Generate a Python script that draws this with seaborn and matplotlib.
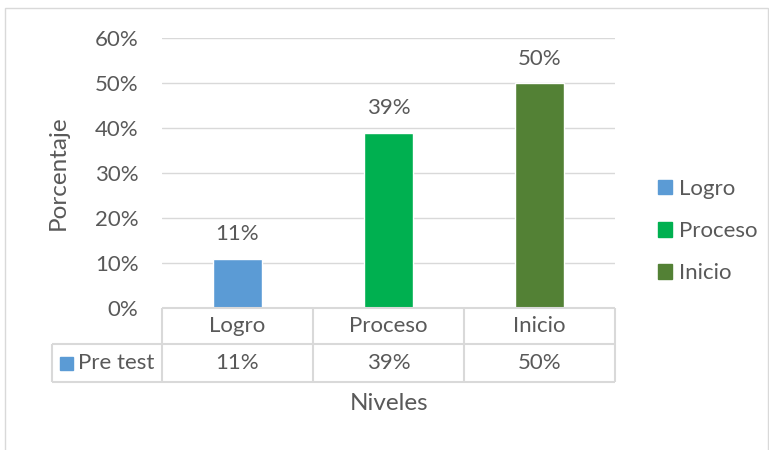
import matplotlib
matplotlib.use('Agg')
import matplotlib.pyplot as plt
import matplotlib.patches as mpatches
from matplotlib.ticker import PercentFormatter
import seaborn as sns

categories = ['Logro', 'Proceso', 'Inicio']
values = [0.11, 0.39, 0.50]
colors = ['#5b9bd5', '#00b050', '#538135']
series_name = 'Pre test'
y_ticks = [0, 0.1, 0.2, 0.3, 0.4, 0.5, 0.6]

TXT = '#595959'
GRID = '#d9d9d9'
FS = 16
FS_TITLE = 17.5

sns.set_style('white')
plt.rcParams['font.family'] = ['Lato', 'DejaVu Sans']

fig = plt.figure(figsize=(7.69, 4.5), dpi=100)
W, H = 769, 450
L, R, T, B = 162, 615, 38, 308
ax = fig.add_axes([L / W, 1 - B / H, (R - L) / W, (B - T) / H])

sns.barplot(x=categories, y=values, hue=categories, palette=colors,
            width=0.32, legend=False, ax=ax, saturation=1)

ax.set_yticks(y_ticks)
ax.yaxis.set_major_formatter(PercentFormatter(1.0, decimals=0))
ax.tick_params(axis='y', length=0, pad=17, labelsize=FS, labelcolor=TXT)
ax.set_xticks([])
ax.set_xlabel('')
ax.set_ylabel('Porcentaje', fontsize=FS_TITLE, color=TXT, va='center')
ax.yaxis.set_label_coords((58 - L) / (R - L), 0.5)
ax.grid(axis='y', color=GRID, linewidth=1)
ax.set_axisbelow(True)
for s in ax.spines.values():
    s.set_visible(False)

for i, v in enumerate(values):
    ax.annotate(f'{v:.0%}', (i, v), xytext=(0, 17.5), textcoords='offset points',
                ha='center', va='center', fontsize=FS, color=TXT)

# data table below the plot
def ax_pt(px, py):
    return (px - L) / (R - L), (B - py) / (B - T)

lw = 1.5
col_x = [162, 313, 464, 615]
y0, y1, y2 = 308, 344, 382
x_left = 52
lines = [((162, y0), (615, y0)), ((x_left, y1), (615, y1)), ((x_left, y2), (615, y2)),
         ((x_left, y1), (x_left, y2))]
for cx in col_x:
    lines.append(((cx, y0), (cx, y2)))
for (a, b) in lines:
    xa, ya = ax_pt(*a)
    xb, yb = ax_pt(*b)
    ax.plot([xa, xb], [ya, yb], transform=ax.transAxes, color=GRID,
            lw=lw, clip_on=False, solid_capstyle='butt')

for i, (c, v) in enumerate(zip(categories, values)):
    cx = (col_x[i] + col_x[i + 1]) / 2
    xa, ya = ax_pt(cx, 326)
    ax.text(xa, ya, c, transform=ax.transAxes, ha='center', va='center',
            fontsize=FS, color=TXT)
    xa, ya = ax_pt(cx, 363)
    ax.text(xa, ya, f'{v:.0%}', transform=ax.transAxes, ha='center', va='center',
            fontsize=FS, color=TXT)

ax.set_xlim(-0.5, len(categories) - 0.5)
ax.set_ylim(0, 0.6)

sq = 13
fig.patches.append(mpatches.Rectangle((60 / W, 1 - 370 / H), sq / W, sq / H,
                                      transform=fig.transFigure, color=colors[0]))
fig.text(78 / W, 1 - 363 / H, series_name, ha='left', va='center',
         fontsize=FS, color=TXT)

fig.text(389 / W, 1 - 404 / H, 'Niveles', ha='center', va='center',
         fontsize=FS_TITLE, color=TXT)

# legend
handles = [mpatches.Patch(color=c, label=n) for c, n in zip(colors, categories)]
fig.legend(handles=handles, loc='center left', bbox_to_anchor=(638 / W, 1 - 231 / H),
           frameon=False, fontsize=FS, handlelength=0.65, handleheight=0.65,
           handletextpad=0.3, labelspacing=1.0, labelcolor=TXT)

# outer chart border
fig.patches.append(mpatches.Rectangle((5 / W, -0.1), 763 / W, 1.1 - 8 / H,
                                      transform=fig.transFigure, fill=False,
                                      edgecolor=GRID, lw=1))

fig.savefig('out.png', dpi=100)
